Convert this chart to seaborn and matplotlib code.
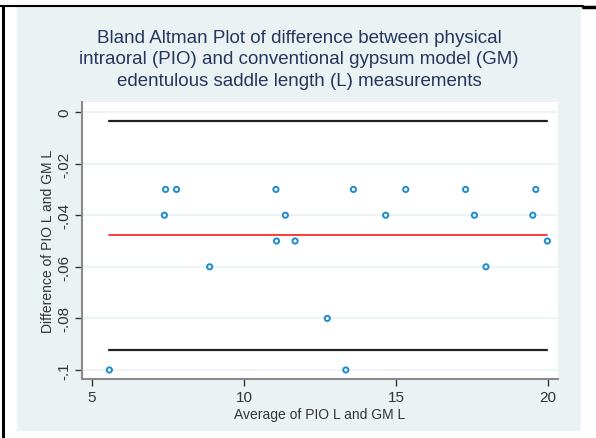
import matplotlib
matplotlib.use("Agg")
import matplotlib.pyplot as plt
from matplotlib.lines import Line2D
from matplotlib.patches import Rectangle
import seaborn as sns
import pandas as pd

# Data (average vs difference)
avg_L = [5.57, 7.38, 7.42, 7.78, 8.87, 11.05, 11.07, 11.36, 11.68, 12.74,
         13.35, 13.60, 14.66, 15.32, 17.29, 17.58, 17.96, 19.50, 19.60, 19.98]
diff_L = [-0.10, -0.04, -0.03, -0.03, -0.06, -0.03, -0.05, -0.04, -0.05, -0.08,
          -0.10, -0.03, -0.04, -0.03, -0.03, -0.04, -0.06, -0.04, -0.03, -0.05]
mean_diff = -0.0478
upper_loa = -0.0035
lower_loa = -0.0922

x_ticks = [5, 10, 15, 20]
y_ticks = [0, -0.02, -0.04, -0.06, -0.08, -0.1]
y_tick_labels = ["0", "-.02", "-.04", "-.06", "-.08", "-.1"]

sns.set_theme(style="white")
plt.rcParams["font.family"] = ["Liberation Sans", "DejaVu Sans"]

bg = "#eaf2f3"
navy = "#26365e"
dot = "#1f8bcd"

df = pd.DataFrame({"avg": avg_L, "diff": diff_L})

fig = plt.figure(figsize=(5.96, 4.39), dpi=100)
fig.patch.set_facecolor("white")
# light graph region (Stata s2color look)
fig.add_artist(Rectangle((17 / 596, 1 - 432 / 439), 564 / 596, 424 / 439,
                         transform=fig.transFigure, facecolor=bg,
                         edgecolor="none", zorder=0))
# black frame lines from the document
fig.add_artist(Line2D([3 / 596, 3 / 596], [0, 1 - 7 / 439], color="black",
                      lw=2.2, transform=fig.transFigure))
fig.add_artist(Line2D([0, 583 / 596], [1 - 7 / 439, 1 - 7 / 439], color="black",
                      lw=1.5, transform=fig.transFigure))
fig.add_artist(Line2D([583 / 596, 1], [1 - 7.5 / 439, 1 - 7.5 / 439], color="black",
                      lw=2.5, transform=fig.transFigure))

ax = fig.add_axes([82 / 596, 1 - 380 / 439, 476 / 596, 277 / 439])
ax.set_facecolor("white")
ax.set_zorder(2)

for y in y_ticks:
    ax.axhline(y, color=bg, lw=1.2, zorder=0)

xs = [min(avg_L), max(avg_L)]
ax.plot(xs, [upper_loa, upper_loa], color="#222222", lw=1.6, zorder=2)
ax.plot(xs, [lower_loa, lower_loa], color="#222222", lw=1.6, zorder=2)
ax.plot(xs, [mean_diff, mean_diff], color="#ff2a2a", lw=1.3, zorder=2)

sns.scatterplot(data=df, x="avg", y="diff", ax=ax, marker="o", s=14,
                facecolor="none", edgecolor=dot, linewidth=1.4, zorder=3)

ax.set_xlim(4.67, 20.33)
ax.set_ylim(-0.1035, 0.0039)
ax.set_xticks(x_ticks)
ax.set_xticklabels([str(t) for t in x_ticks], fontsize=11, color="#333333")
ax.set_yticks(y_ticks)
ax.set_yticklabels(y_tick_labels, rotation=90, va="center", fontsize=11,
                   color="#333333")
ax.tick_params(axis="both", which="major", direction="out", length=5, width=1,
               color="#333333", left=True, bottom=True, pad=3)

for s in ["top", "right"]:
    ax.spines[s].set_visible(False)
for s in ["left", "bottom"]:
    ax.spines[s].set_color("#8a8a8a")
    ax.spines[s].set_linewidth(1.5)

ax.set_xlabel("Average of PIO L and GM L", fontsize=10, color="#333333",
              labelpad=2)
ax.set_ylabel("Difference of PIO L and GM L", fontsize=10, color="#333333",
              labelpad=1)

fig.text(299 / 596, 1 - 60 / 439,
         "Bland Altman Plot of difference between physical\n"
         "intraoral (PIO) and conventional gypsum model (GM)\n"
         "edentulous saddle length (L) measurements",
         ha="center", va="center", fontsize=13.5, color=navy, linespacing=1.32)

fig.savefig("out.png", dpi=100)
